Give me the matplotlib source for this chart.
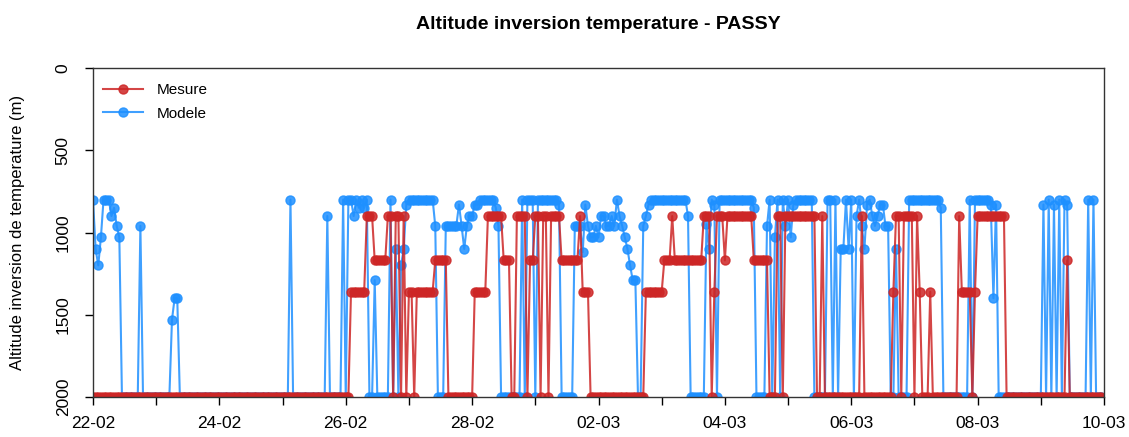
import numpy as np
import pandas as pd
import matplotlib
matplotlib.use("Agg")
import matplotlib.pyplot as plt
import matplotlib.dates as mdates

plt.rcParams['font.family'] = ['Liberation Sans', 'DejaVu Sans']

# hourly series, stored as (start hour, value) steps
mesure_start = [0, 98, 104, 107, 112, 114, 115, 117, 118, 119, 120, 122, 123, 130, 135,
                145, 150, 156, 159, 161, 165, 166, 168, 170, 171, 173, 174, 178, 185, 186,
                189, 210, 217, 220, 221, 232, 235, 236, 237, 240, 241, 251, 257, 260, 262,
                263, 275, 277, 278, 292, 293, 304, 305, 307, 308, 312, 313, 314, 315, 318,
                319, 329, 330, 334, 335, 336, 347, 370, 371]
mesure_value = [2000, 1360, 900, 1170, 900, 2000, 900, 2000, 900, 2000, 1360, 2000, 1360, 1170, 2000,
                1360, 900, 1170, 2000, 900, 2000, 1170, 900, 2000, 900, 2000, 900, 1170, 900, 1360,
                2000, 1360, 1170, 900, 1170, 900, 2000, 1360, 900, 1170, 900, 1170, 2000, 900, 2000,
                900, 2000, 900, 2000, 900, 2000, 1360, 900, 2000, 900, 2000, 900, 1360, 2000, 1360,
                2000, 900, 1360, 2000, 1360, 900, 2000, 1170, 2000]

modele_start = [0, 1, 2, 3, 4, 7, 8, 9, 10, 11, 18, 19, 30, 31, 33, 75, 76, 89, 90, 95,
                96, 97, 99, 100, 101, 102, 103, 104, 105, 107, 108, 113, 114, 115, 116, 117, 118, 119, 120, 130,
                131, 134, 139, 140, 141, 142, 143, 145, 147, 153, 154, 155, 163, 164, 165, 168, 169, 177, 178, 183,
                186, 187, 188, 189, 191, 192, 193, 195, 197, 198, 199, 200, 201, 202, 203, 204, 205, 207, 209, 210,
                211, 212, 226, 227, 233, 234, 235, 236, 237, 238, 251, 252, 256, 257, 258, 259, 260, 261, 262, 263,
                264, 265, 266, 267, 274, 279, 281, 282, 283, 284, 286, 287, 288, 289, 290, 291, 292, 293, 294, 295,
                296, 297, 298, 299, 301, 303, 305, 306, 310, 322, 323, 333, 334, 335, 341, 342, 343, 344, 361, 362,
                363, 364, 365, 366, 367, 368, 369, 370, 371, 378, 379, 380, 381]
modele_value = [800, 1100, 1200, 1030, 800, 900, 850, 960, 1030, 2000, 960, 2000, 1530, 1400, 2000, 800, 2000, 900, 2000, 800,
                2000, 800, 900, 800, 850, 800, 850, 800, 2000, 1290, 2000, 800, 2000, 1100, 2000, 1200, 1100, 830, 800, 960,
                2000, 960, 830, 960, 1100, 960, 900, 830, 800, 850, 960, 2000, 800, 2000, 800, 2000, 800, 830, 2000, 960,
                1120, 830, 960, 1030, 960, 1030, 900, 960, 900, 960, 800, 900, 960, 1030, 1100, 1200, 1290, 2000, 960, 900,
                830, 800, 900, 2000, 950, 1100, 800, 830, 2000, 800, 850, 2000, 960, 800, 2000, 1030, 800, 2000, 800, 960,
                800, 1030, 830, 800, 2000, 800, 2000, 800, 2000, 1100, 800, 1100, 800, 2000, 900, 800, 960, 1100, 830, 800,
                900, 960, 900, 830, 960, 2000, 1100, 2000, 800, 850, 2000, 800, 2000, 800, 830, 1400, 830, 2000, 830, 2000,
                800, 2000, 830, 2000, 800, 2000, 800, 830, 2000, 800, 2000, 800, 2000]

n_hours = 16 * 24
times = pd.date_range('2019-02-22', periods=n_hours, freq='h')


def expand(starts, values, n):
    out = np.zeros(n)
    for i, s in enumerate(starts):
        e = starts[i + 1] if i + 1 < len(starts) else n
        out[s:e] = values[i]
    return out


mesure = expand(mesure_start, mesure_value, n_hours)
modele = expand(modele_start, modele_value, n_hours)

red = '#CD2626'
blue = '#1E90FF'

fig = plt.figure(figsize=(11.29, 4.37), dpi=100)
ax = fig.add_axes([93 / 1129, 1 - 397 / 437, (1104 - 93) / 1129, (397 - 68) / 437])

ax.plot(times, modele, color=blue, marker='o', markersize=6.5, linewidth=1.5, alpha=0.85, label='Modele')
ax.plot(times, mesure, color=red, marker='o', markersize=6.5, linewidth=1.5, alpha=0.85, label='Mesure')

ax.set_xlim(pd.Timestamp('2019-02-22'), pd.Timestamp('2019-03-10'))
ax.set_ylim(2000, 0)
ax.set_yticks([0, 500, 1000, 1500, 2000])
for lab in ax.get_yticklabels():
    lab.set_rotation(90)
    lab.set_va('center')

ax.xaxis.set_major_locator(mdates.DayLocator(interval=2))
ax.xaxis.set_major_formatter(mdates.DateFormatter('%d-%m'))
ax.xaxis.set_minor_locator(mdates.DayLocator())

ax.tick_params(axis='both', which='both', direction='out', length=6, width=1, labelsize=12.5)
ax.tick_params(axis='y', pad=10)
ax.tick_params(axis='x', pad=8)
for sp in ax.spines.values():
    sp.set_linewidth(1)
    sp.set_color('#333333')

ax.set_ylabel('Altitude inversion de temperature (m)', fontsize=12, labelpad=22)
ax.set_title('Altitude inversion temperature - PASSY', fontsize=14, fontweight='bold', pad=28)

handles, labels = ax.get_legend_handles_labels()
ax.legend(handles[::-1], labels[::-1], loc='upper left', bbox_to_anchor=(0, 0.985),
          frameon=False, fontsize=11, handlelength=2.6, borderaxespad=0.15,
          labelspacing=0.65, handletextpad=0.9, borderpad=0.5)

fig.savefig('out.png', dpi=100)
